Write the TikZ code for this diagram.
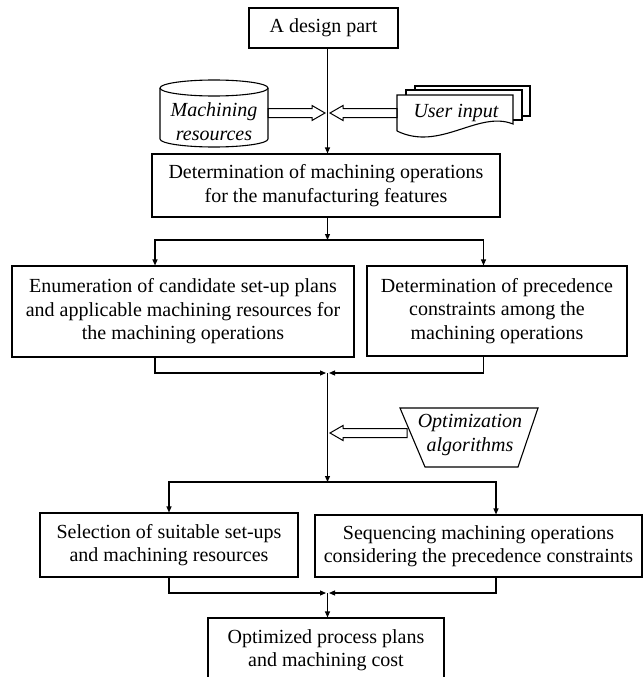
\documentclass[tikz,border=0pt]{standalone}
\usepackage{fontspec}
\setmainfont{Liberation Serif}
\usetikzlibrary{arrows.meta,calc}

\begin{document}
\begin{tikzpicture}[x=1pt, y=1pt,
    font=\fontsize{20}{23.5}\selectfont,
    stepbox/.style={draw, line width=1.1pt, align=center, inner sep=0pt},
    inputtext/.style={align=center, inner sep=0pt, font=\fontsize{20}{23.5}\selectfont\itshape},
    link/.style={line width=1.1pt, -{Triangle[length=6pt, width=5pt]}},
    hollow/.style={line width=1pt, to path={let \p1=(\tikztostart), \p2=(\tikztotarget),
        \p3=($(\p2)!13pt!(\p1)$) in
        (\x1,\y1+4.5pt) -- (\x3,\y1+4.5pt) -- (\x3,\y1+7.5pt) -- (\x2,\y2)
        -- (\x3,\y1-7.5pt) -- (\x3,\y1-4.5pt) -- (\x1,\y1-4.5pt) -- cycle}}]
    \clip (0,0) rectangle (643,-677);

    % the main flow line and the columns of the branches
    \coordinate (spine) at (327.5,0);
    \coordinate (colA) at (155,0);
    \coordinate (colB) at (483.5,0);
    \coordinate (colC) at (169,0);
    \coordinate (colD) at (496,0);

    \node[stepbox, minimum width=149pt, minimum height=40pt] (part) at (323.5,-28) {A design part};
    \node[stepbox, minimum width=348pt, minimum height=63pt] (ops) at (326,-185.5)
        {Determination of machining operations\\for the manufacturing features};
    \node[stepbox, minimum width=342pt, minimum height=91pt] (enum) at (183,-311.5)
        {Enumeration of candidate set-up plans\\and applicable machining resources for\\the machining operations};
    \node[stepbox, minimum width=260pt, minimum height=90pt] (prec) at (497,-311)
        {Determination of precedence\\constraints among the\\machining operations};
    \node[stepbox, minimum width=258pt, minimum height=64pt] (select) at (169,-545)
        {Selection of suitable set-ups\\and machining resources};
    \node[stepbox, minimum width=327pt, minimum height=62pt] (sequ) at (478.5,-546)
        {Sequencing machining operations\\considering the precedence constraints};
    \node[stepbox, minimum width=236pt, minimum height=64pt] (plans) at (326,-650)
        {Optimized process plans\\and machining cost};

    % inputs: machining resources (cylinder)
    \node[inputtext, minimum width=108pt] (mres) at (214,-121.5) {Machining\\resources};
    \draw[line width=1.1pt] (214,-88) ellipse [x radius=54, y radius=8];
    \draw[line width=1.1pt] (160,-88) -- (160,-139)
        arc[start angle=180, end angle=360, x radius=54, y radius=8] -- (268,-88);

    % inputs: user input (stack of documents)
    \node[inputtext, minimum width=116pt] (uinput) at (456,-113) {User input};
    \draw[line width=1.1pt] (415,-90) |- (530,-86) -- (530,-116) -- (522,-116);
    \draw[line width=1.1pt] (406,-95) |- (522,-90) -- (522,-120) -- (513,-120);
    \draw[line width=1.1pt] (397,-131) -- (397,-95) -- (513,-95) -- (513,-124)
        .. controls (478,-110) and (440,-152) .. (397,-131);

    % optimization algorithms (upside-down trapezium)
    \node[inputtext, minimum width=122pt] (optim) at (470,-435) {Optimization\\algorithms};
    \draw[line width=1.1pt] (400,-408) -- (538,-408) -- (518,-467) -- (425,-467) -- cycle;

    \coordinate (out1) at ([yshift=8.5pt]mres.east);
    \coordinate (out2) at (397,-113);
    \coordinate (in1) at (325,-113);
    \coordinate (in2) at (330,-113);
    \coordinate (in3) at (330,-433);
    \coordinate (out3) at (407,-433);
    \draw[hollow] (out1) to (in1);
    \draw[hollow] (out2) to (in2);
    \draw[hollow] (out3) to (in3);

    \coordinate (fork1) at (327.5,-240);
    \coordinate (join1) at (327.5,-373);
    \coordinate (fork2) at (327.5,-482);
    \coordinate (join2) at (327.5,-593);

    \draw[link] (part.south -| spine) -- (ops.north -| spine);
    \draw[link] (ops.south -| spine) -- (fork1);
    \draw[link] (fork1) -| (enum.north -| colA);
    \draw[link] (fork1) -| (prec.north -| colB);
    \draw[link, shorten >=1.5pt] (enum.south -| colA) |- (join1);
    \draw[link, shorten >=1.5pt] (prec.south -| colB) |- (join1);
    \draw[link] (join1) -- (fork2);
    \draw[link] (fork2) -| (select.north -| colC);
    \draw[link] (fork2) -| (sequ.north -| colD);
    \draw[link, shorten >=1.5pt] (select.south -| colC) |- (join2);
    \draw[link, shorten >=1.5pt] (sequ.south -| colD) |- (join2);
    \draw[link] (join2) -- (plans.north -| spine);
\end{tikzpicture}
\end{document}
